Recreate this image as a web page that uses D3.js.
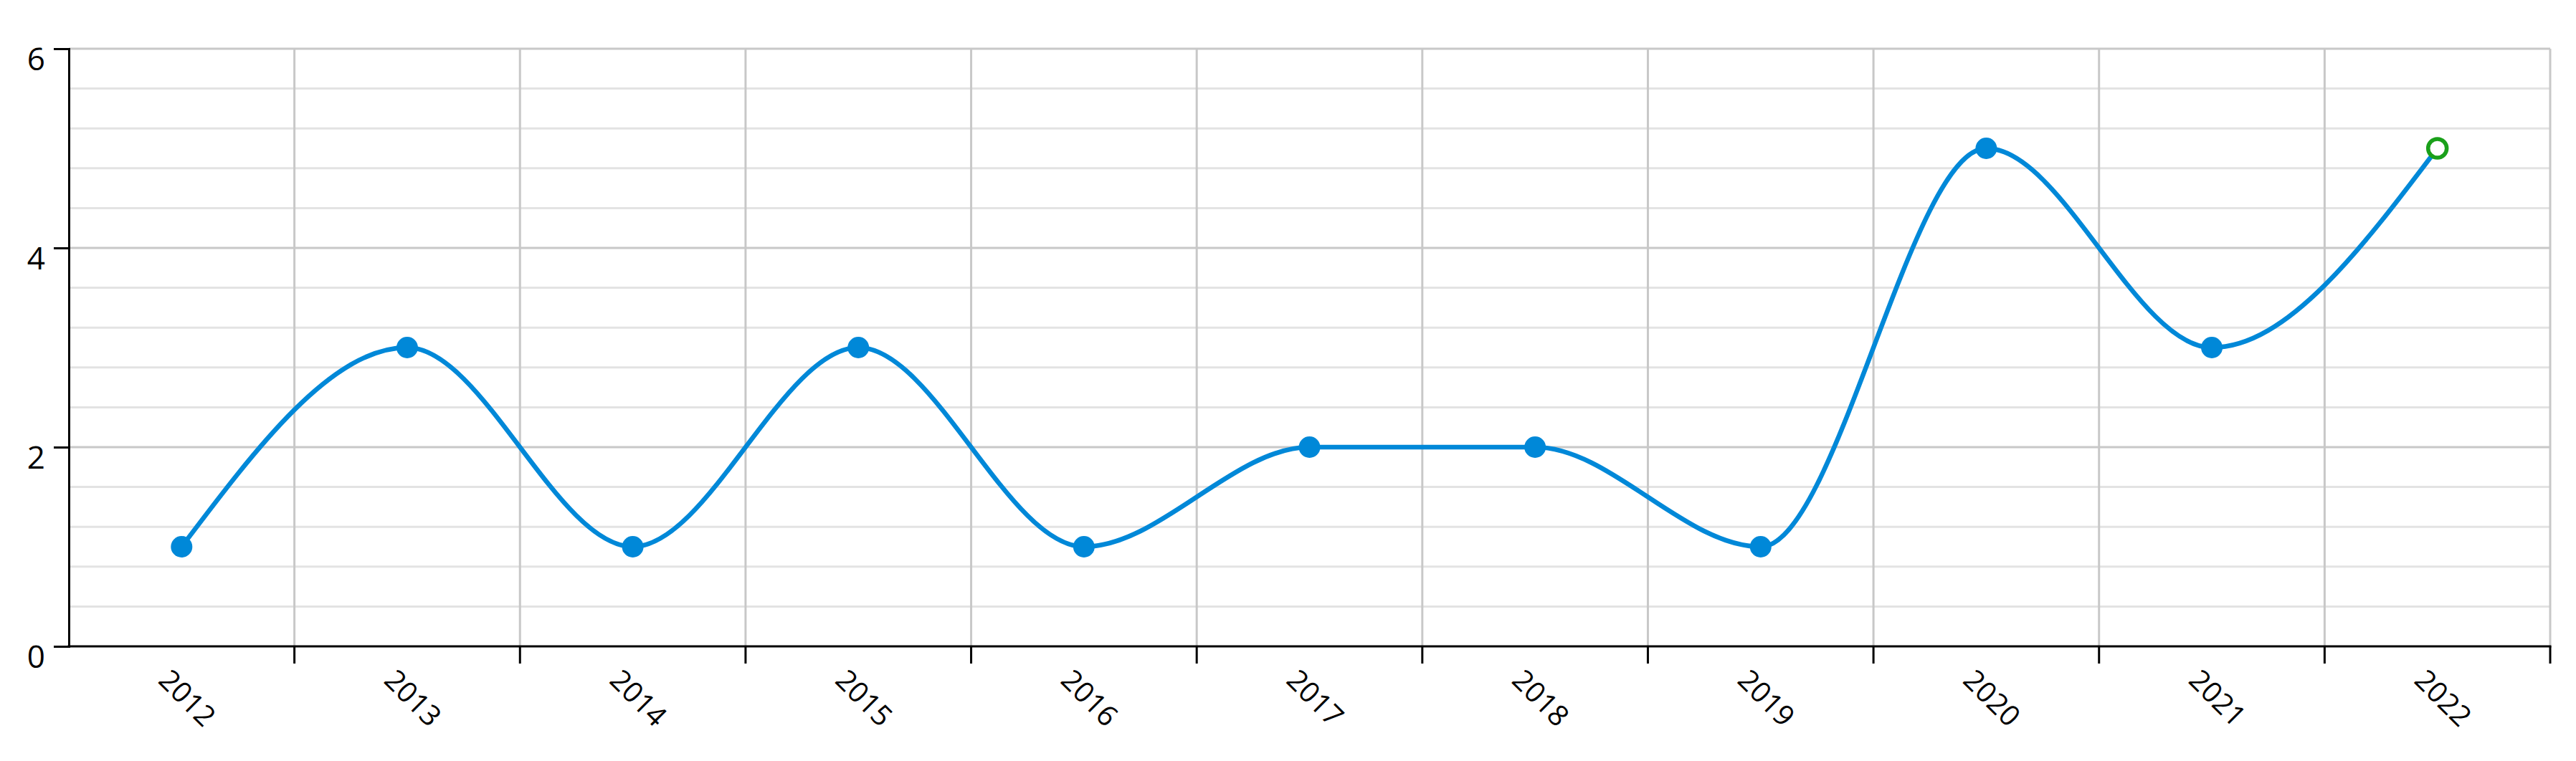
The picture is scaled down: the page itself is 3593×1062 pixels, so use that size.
<!DOCTYPE html>
<html>
<head>
<meta charset="utf-8">
<script src="https://cdn.jsdelivr.net/npm/d3@7"></script>
<style>
  html, body { margin: 0; padding: 0; background: #fff; }
  svg { display: block; }
  text { font-family: "Open Sans", "Liberation Sans", sans-serif; fill: #000; }
</style>
</head>
<body>
<svg id="chart" width="3593" height="1062"></svg>
<script>
const categories = ["2012","2013","2014","2015","2016","2017","2018","2019","2020","2021","2022"];
const values = [1, 3, 1, 3, 1, 2, 2, 1, 5, 3, 5];
const yTickLabels = [0, 2, 4, 6];
const yMinorTicks = [0.4, 0.8, 1.2, 1.6, 2.4, 2.8, 3.2, 3.6, 4.4, 4.8, 5.2, 5.6];

const W = 3593, H = 1062;
const margin = { left: 96, right: 36, top: 68, bottom: 160 };
const svg = d3.select("#chart");

const x = d3.scaleBand().domain(categories).range([margin.left, W - margin.right]).paddingInner(0).paddingOuter(0);
const y = d3.scaleLinear().domain([0, 6]).range([H - margin.bottom, margin.top]);

const g = svg.append("g");

// minor horizontal grid
g.append("g").selectAll("line").data(yMinorTicks).join("line")
  .attr("x1", margin.left).attr("x2", W - margin.right)
  .attr("y1", d => y(d)).attr("y2", d => y(d))
  .attr("stroke", "#e3e3e3").attr("stroke-width", 3);

// major horizontal grid
g.append("g").selectAll("line").data(yTickLabels.filter(d => d > 0)).join("line")
  .attr("x1", margin.left).attr("x2", W - margin.right)
  .attr("y1", d => y(d)).attr("y2", d => y(d))
  .attr("stroke", "#c8c8c8").attr("stroke-width", 3);

// vertical grid at band boundaries
const bounds = categories.slice(1).map(c => x(c)).concat([x(categories[categories.length-1]) + x.bandwidth()]);
g.append("g").selectAll("line").data(bounds).join("line")
  .attr("x1", d => d).attr("x2", d => d)
  .attr("y1", y(6)).attr("y2", y(0))
  .attr("stroke", "#c8c8c8").attr("stroke-width", 3);

// Y axis
const yAxis = d3.axisLeft(y).tickValues(yTickLabels).tickSize(21).tickPadding(12).tickFormat(d3.format("d"));
const ya = svg.append("g").attr("transform", `translate(${margin.left},0)`).call(yAxis);
ya.select(".domain").attr("stroke", "#000").attr("stroke-width", 3);
ya.selectAll(".tick line").attr("stroke", "#000").attr("stroke-width", 3);
ya.selectAll(".tick text").attr("font-size", 44).attr("dy", "0.68em").attr("fill", "#000")
  .style("font-family", '"Open Sans", sans-serif');

// X axis: ticks at band boundaries
const xAxisLine = svg.append("g");
xAxisLine.append("line")
  .attr("x1", margin.left - 1.5).attr("x2", W - margin.right + 1.5)
  .attr("y1", y(0)).attr("y2", y(0))
  .attr("stroke", "#000").attr("stroke-width", 3);
xAxisLine.selectAll("line.tk").data(bounds).join("line").attr("class", "tk")
  .attr("x1", d => d).attr("x2", d => d)
  .attr("y1", y(0)).attr("y2", y(0) + 24)
  .attr("stroke", "#000").attr("stroke-width", 3);

xAxisLine.selectAll("text").data(categories).join("text")
  .attr("transform", d => `translate(${x(d) + x.bandwidth()/2 + 9},${y(0) + 71}) rotate(45)`)
  .attr("text-anchor", "middle")
  .attr("dominant-baseline", "central")
  .attr("font-size", 40)
  .text(d => d);

// line
const data = categories.map((c, i) => ({ c, v: values[i] }));
const line = d3.line()
  .x(d => x(d.c) + x.bandwidth()/2)
  .y(d => y(d.v))
  .curve(d3.curveMonotoneX);

svg.append("path").datum(data)
  .attr("d", line)
  .attr("fill", "none")
  .attr("stroke", "#0088d8")
  .attr("stroke-width", 6.5);

// points
svg.append("g").selectAll("circle").data(data.slice(0, -1)).join("circle")
  .attr("cx", d => x(d.c) + x.bandwidth()/2)
  .attr("cy", d => y(d.v))
  .attr("r", 15)
  .attr("fill", "#0088d8");

const last = data[data.length - 1];
svg.append("circle")
  .attr("cx", x(last.c) + x.bandwidth()/2)
  .attr("cy", y(last.v))
  .attr("r", 13)
  .attr("fill", "#fff")
  .attr("stroke", "#1aa01a")
  .attr("stroke-width", 5.5);
</script>
</body>
</html>
